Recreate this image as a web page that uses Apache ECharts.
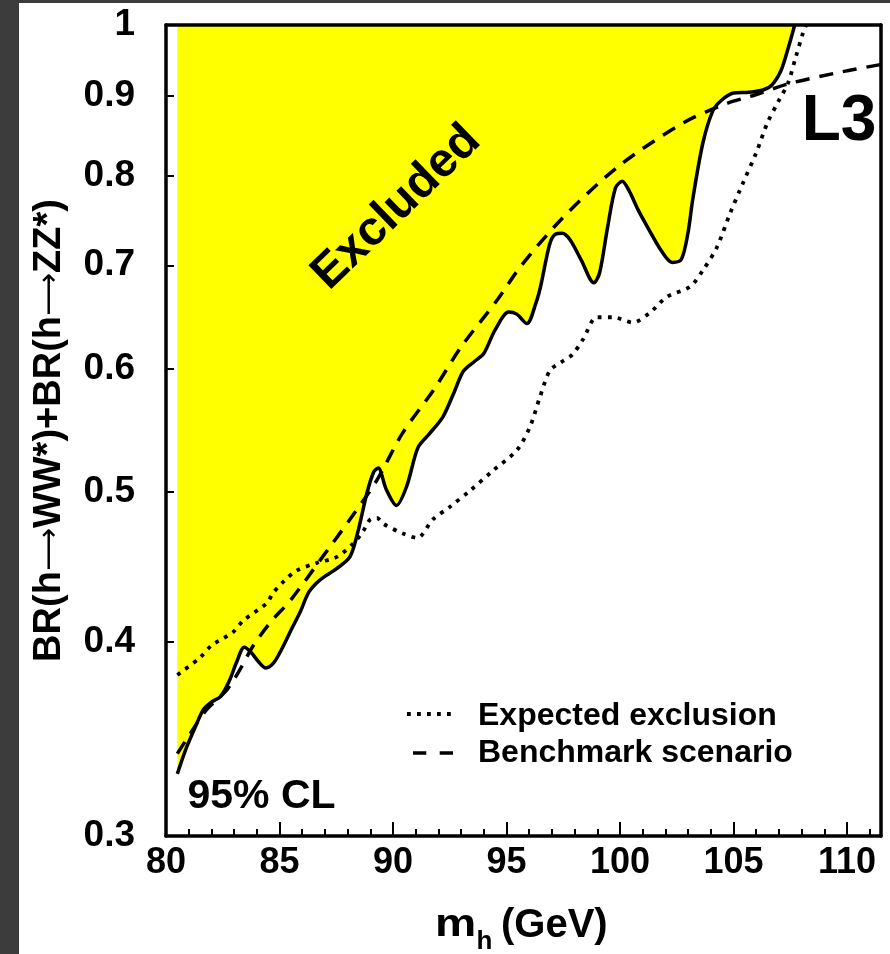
<!DOCTYPE html>
<html><head><meta charset="utf-8">
<script src="https://cdn.jsdelivr.net/npm/echarts@6/dist/echarts.min.js"></script>
<style>html,body{margin:0;padding:0;background:#fff}#c{width:890px;height:954px}</style>
</head><body><div id="c"></div>
<script>
// Observed 95% CL limit (solid line, boundary of the excluded region)
const obsX = [80.5, 80.9, 81.3, 81.65, 82.0, 82.4, 82.8, 83.1, 83.45, 83.75, 84.05, 84.4, 84.75, 85.1, 85.5, 85.9, 86.3, 86.8, 87.5, 88.1, 88.45, 88.85, 89.15, 89.35, 89.7, 90.15, 90.6, 91.1, 91.6, 92.2, 92.7, 93.1, 93.6, 94.0, 94.5, 95.1, 95.45, 95.9, 96.3, 96.5, 96.9, 97.15, 97.45, 97.8, 98.3, 98.85, 99.1, 99.45, 99.8, 100.1, 100.4, 100.8, 101.3, 101.8, 102.3, 102.7, 103.0, 103.2, 103.65, 104.1, 104.5, 105.0, 105.7, 106.3, 106.7, 107.1, 107.4, 107.7];
const obsY = [0.329, 0.342, 0.353, 0.362, 0.366, 0.369, 0.378, 0.388, 0.397, 0.394, 0.389, 0.385, 0.388, 0.396, 0.407, 0.418, 0.431, 0.439, 0.446, 0.454, 0.471, 0.499, 0.515, 0.518, 0.502, 0.490, 0.504, 0.534, 0.545, 0.559, 0.580, 0.598, 0.607, 0.614, 0.636, 0.653, 0.651, 0.642, 0.662, 0.678, 0.722, 0.733, 0.734, 0.727, 0.705, 0.682, 0.692, 0.740, 0.785, 0.793, 0.782, 0.760, 0.737, 0.716, 0.703, 0.706, 0.735, 0.771, 0.839, 0.881, 0.895, 0.904, 0.905, 0.908, 0.915, 0.935, 0.965, 1.0];

// Benchmark scenario (dashed)
const bmX = [80.5, 81.0, 81.8, 82.7, 83.3, 83.8, 84.6, 85.5, 86.8, 88.1, 89.3, 90.4, 91.8, 93.0, 94.6, 95.6, 97.4, 99.9, 102.8, 104.7, 105.7, 107.5, 109.8, 111.5];
const bmY = [0.339, 0.348, 0.362, 0.373, 0.385, 0.397, 0.412, 0.426, 0.452, 0.480, 0.509, 0.545, 0.582, 0.620, 0.665, 0.698, 0.749, 0.810, 0.865, 0.890, 0.899, 0.917, 0.933, 0.943];

// Expected exclusion (dotted)
const expX = [80.5, 81.5, 82.0, 82.95, 83.4, 84.45, 84.7, 85.2, 85.77, 86.65, 87.53, 88.24, 88.7, 89.0, 89.3, 89.56, 90.44, 91.06, 91.76, 92.5, 93.4, 94.4, 95.46, 96.04, 96.48, 96.92, 97.4, 97.9, 98.37, 98.99, 99.7, 100.57, 101.3, 102.07, 103.08, 103.66, 104.27, 104.85, 105.42, 106.0, 106.5, 107.0, 107.4, 107.75, 108.06, 108.2];
const expY = [0.381, 0.391, 0.398, 0.406, 0.413, 0.424, 0.430, 0.438, 0.445, 0.450, 0.454, 0.463, 0.472, 0.480, 0.481, 0.477, 0.470, 0.467, 0.480, 0.489, 0.501, 0.516, 0.532, 0.551, 0.576, 0.599, 0.606, 0.613, 0.627, 0.648, 0.648, 0.643, 0.652, 0.668, 0.678, 0.695, 0.719, 0.756, 0.791, 0.827, 0.865, 0.894, 0.917, 0.954, 0.988, 1.0];

// Axis ticks / labels
const xMajor = [80, 85, 90, 95, 100, 105, 110];
const xMinor = [80,81,82,83,84,85,86,87,88,89,90,91,92,93,94,95,96,97,98,99,100,101,102,103,104,105,106,107,108,109,110,111];
const yLabels = [0.3, 0.4, 0.5, 0.6, 0.7, 0.8, 0.9, 1];
const yTickMarks = [0.4, 0.5, 0.6, 0.7, 0.8, 0.9];

const FONT = "'Liberation Sans', Arial, Helvetica, sans-serif";
const zip = (xs, ys) => xs.map((x, i) => [x, ys[i]]);

const chart = echarts.init(document.getElementById('c'), null, {renderer: 'canvas'});
const X_MIN = 80, X_MAX = 111.5, Y_MIN = 0.3, Y_MAX = 1;

const option = {
  backgroundColor: '#ffffff',
  animation: false,
  grid: {left: 166, top: 25, right: 9, bottom: 118, containLabel: false},
  xAxis: [
    {
      type: 'value', min: X_MIN, max: X_MAX, position: 'bottom', z: 10,
      axisLine: {show: true, onZero: false, lineStyle: {color: '#000', width: 3.5}},
      axisTick: {show: true, inside: true, length: 14, lineStyle: {color: '#000', width: 2}, customValues: xMajor},
      axisLabel: {customValues: xMajor, fontSize: 36, fontWeight: 'bold', color: '#000', fontFamily: FONT, margin: 9},
      splitLine: {show: false}
    },
    {
      type: 'value', min: X_MIN, max: X_MAX, position: 'bottom', z: 10,
      axisLine: {show: false, onZero: false},
      axisTick: {show: true, inside: true, length: 7, lineStyle: {color: '#000', width: 2}, customValues: xMinor},
      axisLabel: {show: false},
      splitLine: {show: false}
    },
    {
      type: 'value', min: X_MIN, max: X_MAX, position: 'top', z: 10,
      axisLine: {show: true, onZero: false, lineStyle: {color: '#000', width: 3.5}},
      axisTick: {show: false}, axisLabel: {show: false}, splitLine: {show: false}
    }
  ],
  yAxis: [
    {
      type: 'log', logBase: 10, min: Y_MIN, max: Y_MAX, position: 'left', z: 10,
      axisLine: {show: true, onZero: false, lineStyle: {color: '#000', width: 3.5}},
      axisTick: {show: true, inside: true, length: 8, lineStyle: {color: '#000', width: 2}, customValues: yTickMarks},
      axisLabel: {
        customValues: yLabels, fontSize: 37, fontWeight: 'bold', color: '#000', fontFamily: FONT, margin: 31,
        formatter: v => { const r = Math.round(v * 10) / 10; return r >= 1 ? '1' : r.toFixed(1); }
      },
      splitLine: {show: false},
      name: '{t|BR(h}{a|\u27F6}{t|WW*)+BR(h}{a|\u27F6}{t|ZZ*)}', nameLocation: 'middle', nameRotate: 90, nameGap: 97,
      nameTextStyle: {
        fontSize: 38, fontWeight: 'bold', color: '#000', fontFamily: FONT,
        rich: {
          t: {fontSize: 38, fontWeight: 'bold', color: '#000', fontFamily: FONT},
          a: {fontSize: 30, fontWeight: 'normal', color: '#000', fontFamily: "'DejaVu Sans', sans-serif"}
        }
      }
    },
    {
      type: 'log', logBase: 10, min: Y_MIN, max: Y_MAX, position: 'right', z: 10,
      axisLine: {show: true, onZero: false, lineStyle: {color: '#000', width: 3.5}},
      axisTick: {show: false}, axisLabel: {show: false}, splitLine: {show: false}
    }
  ],
  series: [
    {
      name: 'Observed', type: 'line', xAxisIndex: 0, yAxisIndex: 0, data: zip(obsX, obsY),
      smooth: 0.3, symbol: 'none', z: 2,
      lineStyle: {color: '#000', width: 3.5},
      areaStyle: {color: '#ffff00', opacity: 1, origin: 'end'}
    },
    {
      name: 'Benchmark scenario', type: 'line', xAxisIndex: 0, yAxisIndex: 0, data: zip(bmX, bmY),
      smooth: 0.3, symbol: 'none', z: 3,
      lineStyle: {color: '#000', width: 3.5, type: [14, 10]}
    },
    {
      name: 'Expected exclusion', type: 'line', xAxisIndex: 0, yAxisIndex: 0, data: zip(expX, expY),
      smooth: 0.3, symbol: 'none', z: 3,
      lineStyle: {color: '#000', width: 3.8, type: [3.8, 6.2]}
    }
  ],
  graphic: [
    {type: 'rect', z: 200, shape: {x: 0, y: 0, width: 19, height: 954}, style: {fill: '#3c3c3c'}},
    {type: 'rect', z: 200, shape: {x: 0, y: 0, width: 890, height: 3}, style: {fill: '#3c3c3c'}},
    {type: 'text', z: 100, x: 396.5, y: 207.5, rotation: 44 * Math.PI / 180,
      style: {text: 'Excluded', font: 'bold 48px ' + FONT, fill: '#000', align: 'center', verticalAlign: 'middle'}},
    {type: 'text', z: 100, x: 839, y: 122,
      style: {text: 'L3', font: 'bold 64px ' + FONT, fill: '#000', align: 'center', verticalAlign: 'middle'}},
    {type: 'text', z: 100, x: 187.5, y: 797,
      style: {text: '95% CL', font: 'bold 41px ' + FONT, fill: '#000', align: 'left', verticalAlign: 'middle'}},
    // legend samples
    {type: 'line', z: 100, shape: {x1: 407, y1: 714, x2: 454, y2: 714}, style: {stroke: '#000', lineWidth: 3.8, lineDash: [3.8, 6.2]}},
    {type: 'line', z: 100, shape: {x1: 413, y1: 753, x2: 453, y2: 753}, style: {stroke: '#000', lineWidth: 3.5, lineDash: [13.3, 13.4]}},
    {type: 'text', z: 100, x: 478, y: 716,
      style: {text: 'Expected exclusion', font: 'bold 32px ' + FONT, fill: '#000', align: 'left', verticalAlign: 'middle'}},
    {type: 'text', z: 100, x: 478, y: 753,
      style: {text: 'Benchmark scenario', font: 'bold 32px ' + FONT, fill: '#000', align: 'left', verticalAlign: 'middle'}},
    // x-axis title: m_h (GeV)
    {type: 'text', z: 100, x: 435, y: 926, scaleX: 1.22,
      style: {text: 'm', font: 'bold 38px ' + FONT, fill: '#000', align: 'left', verticalAlign: 'middle'}},
    {type: 'text', z: 100, x: 476.5, y: 942,
      style: {text: 'h', font: 'bold 26px ' + FONT, fill: '#000', align: 'left', verticalAlign: 'middle'}},
    {type: 'text', z: 100, x: 501, y: 926,
      style: {text: '(GeV)', font: 'bold 40px ' + FONT, fill: '#000', align: 'left', verticalAlign: 'middle'}}
  ]
};
chart.setOption(option);
</script>
</body></html>
